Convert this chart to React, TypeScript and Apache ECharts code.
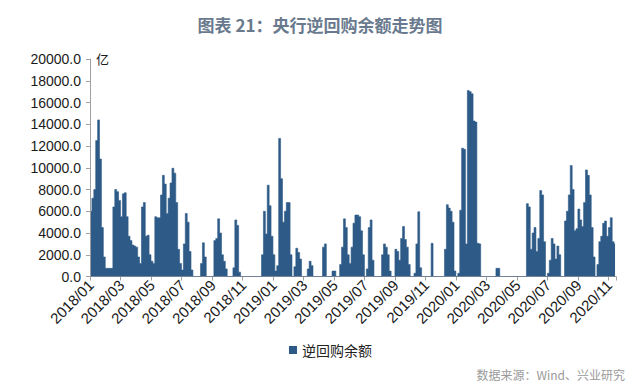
import React, { useEffect, useRef } from "react";
import * as echarts from "echarts";

const seriesName = "逆回购余额";
const titleText = "图表 21：央行逆回购余额走势图";
const sourceText = "数据来源：Wind、兴业研究";
const unitText = "亿";

const startYear = 2018;
const slotDays = ["01", "05", "09", "13", "17", "21", "25", "28"];

const tickLabels = [
  "2018/01", "2018/03", "2018/05", "2018/07", "2018/09", "2018/11",
  "2019/01", "2019/03", "2019/05", "2019/07", "2019/09", "2019/11",
  "2020/01", "2020/03", "2020/05", "2020/07", "2020/09", "2020/11",
];

// 8 readings per month (亿元)
const values2018 = [
  6000, 7200, 8000, 12500, 14400, 10800, 4500, 1800,
  750, 750, 750, 750, 6400, 8000, 7800, 7000,
  5500, 7600, 7700, 5500, 3700, 3300, 2900, 2800,
  2700, 1800, 1200, 6400, 6800, 3700, 3800, 2000,
  1400, 1200, 5500, 5400, 5400, 7500, 9300, 8500,
  5800, 7200, 8600, 9950, 9500, 6800, 2500, 1200,
  600, 3000, 5800, 5000, 2300, 600, 0, 0,
  0, 0, 1200, 3100, 1800, 0, 0, 0,
  0, 3300, 3500, 5300, 4000, 2000, 1400, 700,
  0, 0, 0, 800, 5200, 4700, 400, 0,
  0, 0, 0, 0, 0, 0, 0, 0,
  0, 0, 2000, 6000, 3900, 8400, 6500, 3700,
];

const values2019 = [
  2000, 500, 1000, 12700, 9000, 5000, 6000, 6800,
  6800, 2000, 0, 900, 2600, 2200, 1600, 0,
  0, 0, 700, 1400, 1000, 0, 0, 0,
  0, 0, 2700, 3000, 0, 0, 0, 500,
  500, 0, 0, 1100, 2700, 5300, 4500, 2000,
  1200, 2700, 4900, 5650, 5650, 5500, 4200, 2000,
  0, 700, 4500, 5200, 1500, 0, 0, 0,
  0, 2000, 3000, 2700, 2000, 500, 0, 0,
  2500, 2300, 1500, 3500, 4600, 3400, 2700, 1100,
  0, 0, 300, 3000, 5950, 800, 0, 0,
  0, 0, 0, 3050, 0, 0, 0, 0,
  0, 0, 2500, 6600, 6300, 6000, 5000, 500,
];

const values2020 = [
  0, 300, 6100, 11800, 11700, 3000, 17100, 17000,
  16800, 14300, 14200, 3050, 3000, 0, 0, 0,
  0, 0, 0, 0, 0, 750, 750, 0,
  0, 0, 0, 0, 0, 0, 0, 0,
  0, 0, 0, 0, 0, 6700, 6400, 2500,
  4000, 4500, 2300, 3500, 7900, 7500, 3200, 0,
  300, 1500, 3500, 3000, 1600, 2800, 2000, 0,
  0, 5100, 6000, 7500, 10200, 8000, 4200, 4400,
  6200, 5200, 4600, 6800, 9800, 9300, 7500, 4500,
  1800, 0, 1100, 3200, 3700, 4900, 5100, 3700,
  4500, 5400, 3200, 3000,
];

const seriesValues = [...values2018, ...values2019, ...values2020];

const categories = seriesValues.map((_, i) => {
  const m = Math.floor(i / 8);
  const y = startYear + Math.floor(m / 12);
  const mon = String((m % 12) + 1).padStart(2, "0");
  return `${y}/${mon}/${slotDays[i % 8]}`;
});

const showTick = (index: number, value: string) =>
  index % 8 === 0 && tickLabels.includes(String(value).slice(0, 7));

const latin = "'Liberation Sans', Arial, sans-serif";
const cjk = "'Noto Sans CJK SC', sans-serif";
const barColor = "#2d5a87";

export default function App() {
  const ref = useRef<HTMLDivElement>(null);
  useEffect(() => {
    if (!ref.current) return;
    const chart = echarts.init(ref.current, undefined, { renderer: "svg" });
    chart.setOption({
      animation: false,
      backgroundColor: "#ffffff",
      title: {
        text: titleText,
        left: "center",
        top: 11,
        textStyle: { fontSize: 17, fontWeight: "bold", color: "#6a7a8e", fontFamily: cjk },
      },
      grid: { left: 90, right: 24, top: 59, bottom: 114.5, containLabel: false },
      legend: {
        data: [{ name: seriesName, icon: "rect", itemStyle: { color: barColor } }],
        top: 338,
        left: 284,
        itemWidth: 8,
        itemHeight: 8,
        itemGap: 10,
        textStyle: { fontSize: 14, color: "#222", fontFamily: cjk },
      },
      xAxis: {
        type: "category",
        data: categories,
        boundaryGap: true,
        axisLine: { show: true, lineStyle: { color: "#a0a0a0", width: 1 } },
        axisTick: { show: true, interval: showTick, length: 4, lineStyle: { color: "#a0a0a0" } },
        axisLabel: {
          interval: showTick,
          rotate: 45,
          margin: 6,
          formatter: (v: string) => String(v).slice(0, 7),
          fontSize: 15,
          color: "#1a1a1a",
          fontFamily: latin,
        },
        splitLine: { show: false },
      },
      yAxis: {
        type: "value",
        min: 0,
        max: 20000,
        interval: 2000,
        axisLine: { show: true, lineStyle: { color: "#a0a0a0", width: 1 } },
        axisTick: { show: true, length: 4, lineStyle: { color: "#a0a0a0" } },
        axisLabel: {
          formatter: (v: number) => v.toFixed(1),
          fontSize: 14,
          margin: 9,
          color: "#1a1a1a",
          fontFamily: latin,
        },
        splitLine: { show: false },
      },
      graphic: [
        {
          type: "text",
          left: 96,
          top: 52,
          style: { text: unitText, fontSize: 13, fill: "#1a1a1a", fontFamily: cjk },
        },
        {
          type: "text",
          right: 15,
          top: 368,
          style: { text: sourceText, fontSize: 12, fill: "#9a9a9a", fontFamily: cjk },
        },
      ],
      series: [
        {
          name: seriesName,
          type: "line",
          data: seriesValues,
          step: "middle",
          symbol: "none",
          z: 1,
          itemStyle: { color: barColor },
          lineStyle: { color: barColor, width: 0.6 },
          areaStyle: { color: barColor, opacity: 1 },
        },
      ],
    });
    return () => chart.dispose();
  }, []);
  return (
    <div
      ref={ref}
      style={{ position: "fixed", left: 0, top: 0, width: 640, height: 391, background: "#fff" }}
    />
  );
}
